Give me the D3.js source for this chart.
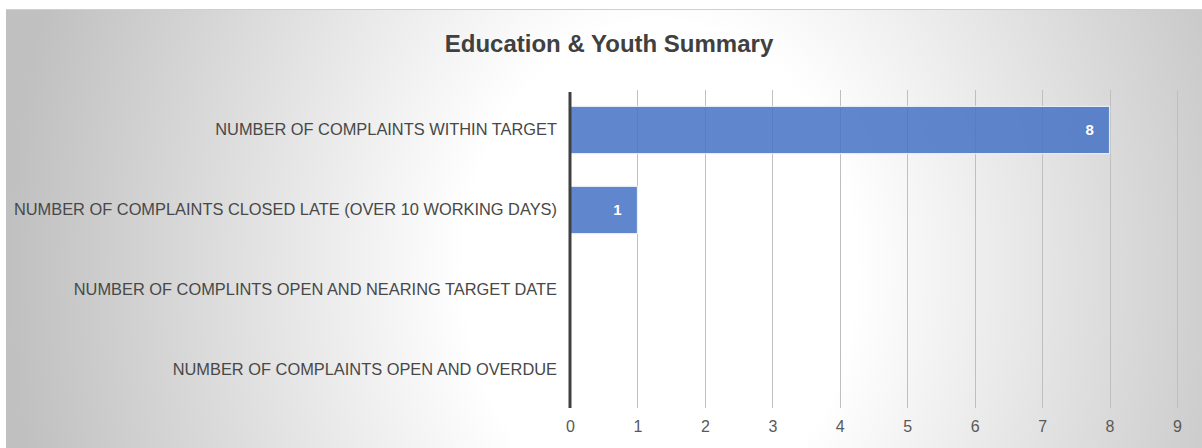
<!DOCTYPE html>
<html><head><meta charset="utf-8">
<script src="https://cdn.jsdelivr.net/npm/d3@7"></script>
<style>html,body{margin:0;padding:0;background:#fff;overflow:hidden} text{font-family:'Liberation Sans',Arial,sans-serif}</style>
</head><body>
<svg id="chart" width="1202" height="448"></svg>
<script>
const title = "Education & Youth Summary";
const categories = [
  "NUMBER OF COMPLAINTS WITHIN TARGET",
  "NUMBER OF COMPLAINTS CLOSED LATE (OVER 10 WORKING DAYS)",
  "NUMBER OF COMPLINTS OPEN AND NEARING TARGET DATE",
  "NUMBER OF COMPLAINTS OPEN AND OVERDUE"
];
const values = [8, 1, null, null];
const xTicks = [0, 1, 2, 3, 4, 5, 6, 7, 8, 9];

const FONT = "'Liberation Sans', Arial, sans-serif";
const svg = d3.select("#chart");
const W = 1202, H = 448;
const defs = svg.append("defs");
const rg = defs.append("radialGradient").attr("id","bg")
  .attr("gradientUnits","userSpaceOnUse")
  .attr("cx",0).attr("cy",0).attr("r",1)
  .attr("gradientTransform","translate(660,270) scale(650,820)");
rg.append("stop").attr("offset","0").attr("stop-color","#ffffff");
rg.append("stop").attr("offset","0.3").attr("stop-color","#ffffff");
rg.append("stop").attr("offset","1").attr("stop-color","#c0c0c0");

svg.append("rect").attr("x",6).attr("y",9).attr("width",W-6).attr("height",H-9).attr("fill","url(#bg)");
svg.append("line").attr("x1",6).attr("x2",W).attr("y1",9.5).attr("y2",9.5).attr("stroke","#d0d0d0");

const m = {left:570, right:1177, top:90, bottom:410};
const x = d3.scaleLinear().domain([0,9]).range([m.left, m.right]);
const y = d3.scaleBand().domain(categories).range([m.top, m.bottom]).paddingInner(0.41).paddingOuter(0.205);

// gridlines
svg.append("g").selectAll("line").data(xTicks.filter(d=>d>0)).join("line")
  .attr("x1",d=>Math.round(x(d))+0.5).attr("x2",d=>Math.round(x(d))+0.5)
  .attr("y1",m.top).attr("y2",m.bottom-2)
  .attr("stroke","#bfbfbf").attr("stroke-width",1);

const rows = categories.map((c,i)=>({c,v:values[i]})).filter(d=>d.v!=null);
// bars
svg.append("g").selectAll("rect").data(rows).join("rect")
  .attr("x",x(0)).attr("y",d=>y(d.c)).attr("width",d=>x(d.v)-x(0)).attr("height",y.bandwidth())
  .attr("fill","#4472c4").attr("fill-opacity",0.85).attr("stroke","#e6ecf6").attr("stroke-width",1.2);

// data labels
svg.append("g").selectAll("text").data(rows).join("text")
  .attr("x",d=>x(d.v)-20).attr("y",d=>y(d.c)+y.bandwidth()/2).attr("dy","0.36em")
  .attr("text-anchor","middle").attr("fill","#ffffff").attr("font-weight","bold")
  .attr("font-family",FONT).attr("font-size",15)
  .text(d=>d.v);

// x axis tick labels
const xAxis = d3.axisBottom(x).tickValues(xTicks).tickSize(0).tickPadding(11);
const gx = svg.append("g").attr("transform",`translate(0,${m.bottom})`).call(xAxis);
gx.select(".domain").remove();
gx.attr("font-family",FONT);
gx.selectAll("text").attr("fill","#595959").attr("font-size",16).attr("font-family",FONT);

// y axis
const yAxis = d3.axisLeft(y).tickSize(0).tickPadding(13);
const gy = svg.append("g").attr("transform",`translate(${m.left},0)`).call(yAxis);
gy.select(".domain").remove();
gy.attr("font-family",FONT);
gy.selectAll("text").attr("fill","#484848").attr("font-size",16.4).attr("font-family",FONT);

// axis line
svg.append("line").attr("x1",x(0)).attr("x2",x(0)).attr("y1",m.top+2).attr("y2",m.bottom-2)
  .attr("stroke","#404040").attr("stroke-width",3);

svg.append("text").attr("x",609).attr("y",52).attr("text-anchor","middle")
  .attr("font-family",FONT).attr("font-weight","bold")
  .attr("font-size",24).attr("fill","#404040").text(title);
</script>
</body></html>
